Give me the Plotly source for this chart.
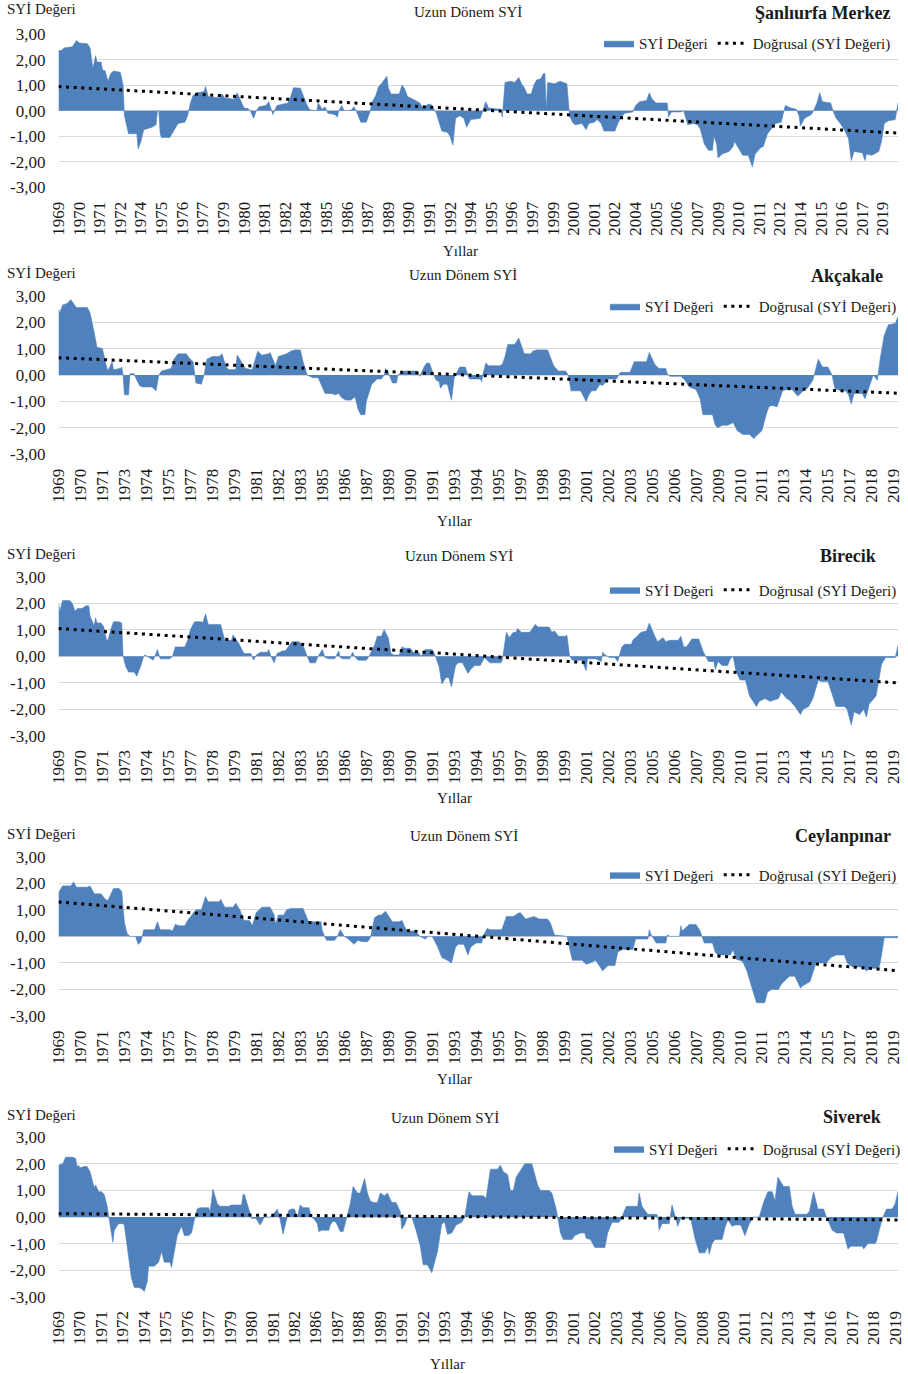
import numpy as np
import plotly.graph_objects as go

W, H = 908, 1374
FONT = "Liberation Serif"
TEXT = "#1a1a1a"
AREA = "#4F81BD"
GRID = "#d9d9d9"

# ---------------- Şanlıurfa Merkez ----------------
merkez_dates = """
1969-01 1969-03 1969-05 1969-11 1970-01 1970-02 1970-04 1970-10 1970-12
1971-02 1971-04 1971-05 1971-08 1971-09 1971-11 1972-01 1972-03 1972-05 1972-10 1972-12
1973-01 1973-03 1973-04 1973-10 1973-11 1974-01 1974-03 1974-09 1974-12
1975-01 1975-02 1975-03 1975-04 1975-10 1976-01 1976-04 1976-09 1976-11
1977-01 1977-03 1977-06 1977-11 1977-12 1978-02 1978-10 1978-12
1979-02 1979-09 1979-11 1980-01 1980-04 1980-07 1980-09 1980-11
1981-01 1981-03 1981-08 1981-10 1982-01 1982-04 1982-09 1982-12
1983-02 1983-04 1983-09 1983-12 1984-02 1984-04 1984-09 1984-10
1985-01 1985-03 1985-05 1985-10 1985-12 1986-01 1986-03 1986-05 1986-10 1986-12
1987-02 1987-05 1987-09 1987-12 1988-01 1988-04 1988-06 1988-08 1988-11 1988-12
1989-01 1989-03 1989-09 1989-11 1990-01 1990-03 1990-07 1990-12
1991-02 1991-06 1991-08 1991-10 1991-12 1992-02 1992-04 1992-08 1992-10 1992-12
1993-02 1993-05 1993-08 1993-10 1994-01 1994-08 1994-10 1994-12
1995-02 1995-11 1995-12 1996-02 1996-06 1996-09 1996-12
1997-02 1997-04 1997-06 1997-09 1997-11 1998-01 1998-04 1998-06 1998-07 1998-08 1998-09
1999-02 1999-06 1999-11 1999-12 2000-01 2000-03 2000-05 2000-10
2001-01 2001-03 2001-07 2001-09 2001-12 2002-02 2002-10 2002-12
2003-02 2003-05 2003-11 2004-01 2004-04 2004-09 2004-11
2005-01 2005-04 2005-12 2006-01 2006-03 2006-10 2006-12
2007-01 2007-03 2007-07 2007-10 2007-12 2008-03 2008-06 2008-09 2008-10 2008-12
2009-01 2009-04 2009-09 2009-12 2010-01 2010-04 2010-07 2010-11
2011-02 2011-04 2011-08 2011-10 2012-01 2012-07 2012-11
2013-01 2013-02 2013-06 2013-10 2013-12 2014-01 2014-04 2014-09 2014-11
2015-01 2015-03 2015-05 2015-11 2016-01 2016-03 2016-06 2016-09 2016-12
2017-02 2017-04 2017-10 2017-12 2018-01 2018-05 2018-10 2018-12
2019-02 2019-05 2019-10 2019-12
""".split()
merkez_spi = [
    2.35, 2.35, 2.45, 2.5, 2.65, 2.75, 2.65, 2.62, 2.45,
    1.65, 2.15, 1.9, 1.9, 1.6, 1.55, 1.15, 1.45, 1.55, 1.5, 1.0,
    -0.2, -0.6, -0.9, -0.9, -1.5, -1.2, -0.75, -0.65, -0.55,
    0.0, 0.0, -0.9, -1.05, -1.05, -0.8, -0.5, -0.45, -0.2,
    0.3, 0.6, 0.7, 0.75, 0.95, 0.55, 0.5, 0.65,
    0.5, 0.45, 0.7, 0.45, 0.1, 0.08, -0.05, -0.3,
    0.0, 0.15, 0.2, 0.35, -0.15, 0.2, 0.25, 0.3,
    0.55, 0.9, 0.88, 0.45, 0.2, 0.03, 0.0, 0.3,
    0.05, 0.15, -0.1, -0.15, -0.25, 0.0, 0.2, 0.0, 0.02, 0.15,
    -0.05, -0.45, -0.45, 0.0, 0.3, 0.6, 0.95, 1.05, 1.3, 1.35,
    0.9, 0.65, 0.65, 1.0, 0.85, 0.55, 0.45, 0.3,
    0.1, 0.25, 0.25, 0.05, -0.1, -0.45, -0.8, -0.85, -1.0, -1.35,
    -0.3, -0.2, -0.3, -0.65, -0.35, -0.3, 0.0, 0.35,
    0.1, 0.05, -0.25, 1.1, 1.15, 1.1, 1.3,
    1.05, 0.9, 0.65, 0.65, 1.0, 1.2, 1.25, 1.45, 1.45, 0.0, 1.1,
    1.05, 1.15, 1.05, 0.5, -0.2, -0.45, -0.55, -0.5,
    -0.75, -0.5, -0.45, -0.35, -0.5, -0.8, -0.8, -0.5,
    -0.3, -0.1, -0.05, 0.2, 0.35, 0.4, 0.7,
    0.45, 0.3, 0.3, -0.25, -0.05, -0.05, 0.0,
    -0.2, -0.55, -0.5, -0.55, -0.7, -1.3, -1.55, -1.55, -1.0, -1.3,
    -1.85, -1.7, -1.6, -1.4, -1.2, -1.45, -1.75, -1.75,
    -2.2, -1.7, -1.45, -1.4, -0.9, -0.5, -0.45,
    0.0, 0.2, 0.1, 0.05, -0.2, -0.6, -0.3, -0.15, 0.05,
    0.3, 0.7, 0.35, 0.3, -0.05, -0.3, -0.5, -0.75, -1.1,
    -1.95, -1.6, -1.65, -1.95, -1.7, -1.75, -1.6, -1.2,
    -0.5, -0.4, -0.35, 0.3,
]

# ---------------- Akçakale ----------------
akcakale_dates = """
1969-01 1969-02 1969-04 1969-07 1969-10 1970-02 1970-10 1970-12
1971-03 1971-05 1971-09 1971-11 1972-01 1972-04 1972-05 1972-10 1972-11 1972-12
1973-01 1973-04 1973-05 1973-08 1973-10 1973-12 1974-02 1974-09 1974-12
1975-02 1975-04 1975-07 1975-11 1976-01 1976-04 1976-10 1976-12
1977-03 1977-05 1977-09 1977-11 1978-01 1978-05 1978-10 1978-12
1979-03 1979-05 1979-10 1979-11 1980-01 1980-05 1980-10
1981-02 1981-05 1981-10 1981-11 1982-02 1982-03 1982-05 1982-11
1983-02 1983-05 1983-09 1983-11 1984-02 1984-04 1984-06 1984-10
1985-01 1985-03 1985-08 1985-10 1986-01 1986-03 1986-06 1986-10 1986-12
1987-01 1987-03 1987-05 1987-08 1987-09 1987-12 1988-01 1988-05 1988-08 1988-10 1988-11
1989-01 1989-04 1989-07 1989-08 1989-11 1990-01 1990-10 1990-12
1991-03 1991-05 1991-07 1991-10 1991-12 1992-02 1992-03 1992-05 1992-08 1992-11
1993-01 1993-05 1993-09 1993-12 1994-02 1994-08 1994-09 1994-10 1994-12
1995-02 1995-10 1995-12 1996-02 1996-04 1996-09 1996-12
1997-02 1997-04 1997-09 1997-10 1998-01 1998-09 1999-01 1999-02 1999-05 1999-10 1999-12
2000-02 2000-09 2001-01 2001-03 2001-05 2001-08 2001-11
2002-01 2002-05 2002-11 2002-12 2003-02 2003-09 2003-12
2004-02 2004-09 2004-11 2005-03 2005-06 2005-11 2005-12 2006-02 2006-10
2007-01 2007-04 2007-09 2007-12 2008-02 2008-09 2008-11
2009-01 2009-04 2009-08 2009-12 2010-03 2010-07 2010-12
2011-03 2011-05 2011-09 2011-12 2012-02 2012-04 2012-08 2012-12
2013-03 2013-07 2013-11 2014-03 2014-06 2014-10 2014-12
2015-02 2015-05 2015-09 2015-12 2016-02 2016-06 2016-10 2016-12
2017-02 2017-04 2017-10 2017-12 2018-02 2018-04 2018-06 2018-09 2018-11
2019-02 2019-05 2019-10 2019-12
""".split()
akcakale_spi = [
    2.5, 2.35, 2.65, 2.7, 2.85, 2.55, 2.55, 2.35,
    1.6, 1.05, 1.0, 0.5, 0.15, 0.5, 0.2, 0.25, 0.3, 0.0,
    -0.75, -0.75, 0.05, 0.05, -0.2, -0.4, -0.45, -0.45, -0.6,
    0.0, 0.15, 0.2, 0.25, 0.6, 0.8, 0.8, 0.65,
    0.5, -0.3, -0.35, 0.0, 0.6, 0.7, 0.7, 0.8,
    0.3, 0.2, 0.2, 0.75, 0.6, 0.25, 0.2,
    0.9, 0.75, 0.8, 0.85, 0.5, 0.35, 0.7, 0.8,
    0.9, 0.95, 0.95, 0.5, 0.0, -0.05, -0.1, -0.1,
    -0.5, -0.7, -0.7, -0.75, -0.7, -0.85, -0.95, -0.95, -0.85,
    -0.85, -1.3, -1.5, -1.5, -1.0, -0.5, -0.35, -0.15, -0.15, 0.0, 0.25,
    0.1, -0.3, -0.3, 0.0, 0.1, 0.15, 0.15, -0.05,
    0.3, 0.45, 0.45, 0.0, -0.2, -0.25, -0.5, -0.35, -0.35, -0.95,
    -0.1, 0.3, 0.3, -0.15, -0.15, -0.15, -0.25, 0.05, 0.45,
    0.35, 0.35, 0.4, 0.7, 1.15, 1.15, 1.4,
    1.1, 0.8, 0.8, 0.9, 0.95, 0.95, 0.4, 0.3, 0.15, 0.15, 0.0,
    -0.6, -0.6, -1.0, -0.75, -0.6, -0.6, -0.35,
    -0.4, -0.15, -0.15, -0.05, 0.1, 0.1, 0.5,
    0.5, 0.5, 0.85, 0.4, 0.25, 0.25, 0.05, -0.05, -0.05,
    -0.2, -0.45, -0.55, -0.9, -1.5, -1.5, -1.9,
    -2.0, -1.9, -1.9, -1.8, -2.1, -2.25, -2.25,
    -2.4, -2.3, -2.1, -1.5, -1.2, -1.15, -1.2, -0.6,
    -0.55, -0.55, -0.8, -0.6, -0.5, -0.2, 0.2,
    0.6, 0.3, 0.3, 0.0, -0.5, -0.6, -0.6, -0.75,
    -1.1, -0.7, -0.7, -0.9, -0.6, -0.3, 0.0, -0.2, 0.6,
    1.5, 1.9, 1.95, 2.2,
]

# ---------------- Birecik ----------------
birecik_dates = """
1969-01 1969-02 1969-04 1969-09 1969-11 1970-01 1970-03 1970-06 1970-09 1970-11 1970-12
1971-03 1971-04 1971-05 1971-08 1971-10 1971-12 1972-01 1972-03 1972-05 1972-09 1972-11 1972-12
1973-02 1973-04 1973-08 1973-10 1974-01 1974-03 1974-04 1974-10 1974-11
1975-01 1975-03 1975-10 1975-12 1976-02 1976-09 1976-11
1977-01 1977-04 1977-09 1977-10 1977-12 1978-02 1978-11
1979-02 1979-07 1979-08 1979-12 1980-01 1980-04 1980-09 1980-11
1981-01 1981-04 1981-09 1981-10 1981-12 1982-02 1982-04 1982-08 1982-10 1982-12
1983-03 1983-08 1983-11 1984-02 1984-04 1984-08 1984-10
1985-01 1985-03 1985-06 1985-10 1986-01 1986-02 1986-04 1986-09 1986-11
1987-01 1987-03 1987-09 1987-11 1988-03 1988-05 1988-08 1988-10
1989-01 1989-03 1989-05 1989-09 1989-11 1990-01 1990-05 1990-07 1990-11
1991-01 1991-04 1991-09 1991-11 1992-02 1992-04 1992-07 1992-09 1992-11
1993-02 1993-04 1993-07 1993-11 1994-01 1994-04 1994-08 1994-11
1995-03 1995-11 1995-12 1996-03 1996-05 1996-08 1996-10 1996-11
1997-02 1997-08 1997-12 1998-02 1998-10 1998-12 1999-02 1999-05 1999-10 1999-11
2000-01 2000-03 2000-10 2001-01 2001-02 2001-08 2001-12
2002-01 2002-03 2002-06 2002-10 2002-12 2003-03 2003-05 2003-10 2003-11
2004-01 2004-05 2004-09 2004-11 2005-03 2005-05 2005-09 2005-11
2006-02 2006-08 2006-10 2006-12 2007-02 2007-06 2007-11
2008-02 2008-04 2008-06 2008-10 2008-11 2009-01 2009-04 2009-08 2009-10 2009-12
2010-02 2010-05 2010-09 2010-12 2011-05 2011-07 2011-11
2012-03 2012-09 2012-11 2013-03 2013-05 2013-09
2014-01 2014-03 2014-07 2014-10 2015-02 2015-04 2015-09 2015-12
2016-03 2016-09 2016-11 2017-02 2017-04 2017-08 2017-11
2018-01 2018-03 2018-08 2018-12 2019-03 2019-10 2019-12
""".split()
birecik_spi = [
    2.0, 1.7, 2.1, 2.1, 2.0, 1.7, 1.8, 1.8, 1.9, 1.9, 1.5,
    1.15, 1.45, 1.25, 1.25, 1.1, 0.6, 0.6, 1.0, 1.3, 1.3, 1.25, 0.0,
    -0.4, -0.6, -0.6, -0.75, -0.35, 0.0, 0.05, -0.15, 0.0,
    0.25, -0.1, -0.1, 0.0, 0.35, 0.35, 0.6,
    1.0, 1.3, 1.3, 1.25, 1.6, 1.2, 1.2,
    0.6, 0.6, 0.8, 0.5, 0.4, 0.1, 0.1, -0.15,
    0.05, 0.15, 0.15, 0.25, -0.05, -0.25, 0.1, 0.2, 0.2, 0.35,
    0.55, 0.55, 0.4, 0.0, -0.25, -0.25, 0.0,
    0.25, -0.05, -0.1, -0.1, 0.2, -0.05, -0.1, -0.1, 0.15,
    -0.05, -0.15, -0.15, 0.0, 0.4, 0.75, 0.75, 1.0,
    0.7, 0.1, 0.05, 0.05, 0.35, 0.3, 0.3, 0.15, 0.15,
    0.0, 0.25, 0.25, 0.05, -0.4, -1.05, -0.8, -0.8, -1.15,
    -0.35, -0.25, -0.25, -0.65, -0.5, -0.35, -0.35, -0.05,
    -0.25, -0.25, -0.15, 0.9, 0.7, 0.9, 0.9, 1.05,
    0.9, 0.9, 1.2, 1.1, 1.1, 0.9, 0.95, 0.75, 0.75, 0.8,
    0.0, -0.15, -0.15, -0.55, -0.1, -0.1, -0.2,
    0.15, 0.05, -0.05, -0.05, -0.2, 0.35, 0.45, 0.45, 0.6,
    0.7, 0.9, 0.95, 1.25, 0.75, 0.55, 0.7, 0.55,
    0.6, 0.6, 0.75, 0.35, 0.35, 0.65, 0.65,
    0.2, 0.0, -0.2, -0.2, -0.5, -0.2, -0.35, -0.35, -0.1, 0.0,
    -0.55, -0.9, -0.9, -1.5, -1.9, -1.7, -1.6,
    -1.7, -1.6, -1.35, -1.6, -1.65, -1.9,
    -2.2, -2.0, -1.9, -1.6, -0.9, -0.95, -0.95, -1.4,
    -1.9, -1.9, -2.0, -2.6, -2.1, -2.2, -2.0,
    -2.3, -1.8, -1.5, -0.3, -0.05, -0.05, 0.4,
]

# ---------------- Ceylanpınar ----------------
ceylanpinar_dates = """
1969-01 1969-04 1969-10 1969-12 1970-02 1970-10 1970-12
1971-03 1971-08 1971-11 1972-01 1972-03 1972-05 1972-09 1972-11
1973-01 1973-03 1973-05 1973-09 1973-11 1974-01 1974-03 1974-11
1975-01 1975-03 1975-10 1975-12 1976-02 1976-05 1976-09 1976-11
1977-02 1977-05 1977-09 1977-12 1978-02 1978-10 1978-11
1979-02 1979-08 1979-10 1980-01 1980-04 1980-08 1980-10
1981-01 1981-05 1981-11 1982-02 1982-03 1982-05 1982-09 1982-11
1983-02 1983-11 1984-03 1984-12 1985-01 1985-04 1985-10 1985-12
1986-02 1986-05 1986-08 1986-12 1987-03 1987-06 1987-10 1987-12
1988-03 1988-06 1988-08 1988-11 1989-04 1989-09 1989-11
1990-01 1990-03 1990-09 1990-12 1991-04 1991-06 1991-09
1992-01 1992-04 1992-08 1992-11 1993-02 1993-04 1993-08 1993-11
1994-01 1994-05 1994-09 1994-10 1995-01 1995-03 1995-11 1995-12
1996-03 1996-08 1996-11 1997-01 1997-05 1997-08 1997-11
1998-03 1998-09 1998-11 1999-02 1999-11
2000-03 2000-10 2001-01 2001-04 2001-08 2002-01 2002-05 2002-10 2002-12
2003-03 2003-11 2004-01 2004-04 2004-10 2004-11 2004-12
2005-04 2005-11 2005-12 2006-02 2006-09 2006-10 2006-11
2007-04 2007-09 2007-12 2008-03 2008-09 2008-11
2009-01 2009-10 2009-12 2010-02 2010-07 2010-10
2011-03 2011-05 2011-11 2012-01 2012-04 2012-09 2012-11
2013-05 2013-09 2014-01 2014-03 2014-08 2014-12
2015-03 2015-08 2015-11 2016-03 2016-09 2016-11
2017-03 2017-10 2018-01 2018-04 2018-10 2018-11 2019-02 2019-12
""".split()
ceylanpinar_spi = [
    1.65, 1.9, 1.9, 2.05, 1.85, 1.85, 1.9,
    1.6, 1.6, 1.4, 1.35, 1.6, 1.8, 1.8, 1.7,
    0.5, 0.1, 0.0, 0.0, -0.3, -0.2, 0.25, 0.25,
    0.55, 0.25, 0.25, 0.2, 0.45, 0.4, 0.4, 0.6,
    0.8, 1.0, 1.0, 1.5, 1.3, 1.3, 1.4,
    1.1, 1.1, 1.25, 1.0, 0.6, 0.6, 0.4,
    0.9, 1.1, 1.1, 0.8, 0.45, 0.8, 0.8, 1.0,
    1.05, 1.05, 0.55, 0.55, 0.2, -0.15, -0.15, 0.0,
    0.25, 0.0, -0.1, -0.3, -0.15, -0.2, -0.2, -0.05,
    0.7, 0.8, 0.8, 0.95, 0.55, 0.55, 0.6,
    0.35, 0.2, 0.2, 0.0, -0.1, 0.0, 0.0,
    -0.4, -0.8, -0.9, -1.0, -0.4, -0.3, -0.3, -0.7,
    -0.4, -0.25, -0.25, 0.0, 0.3, 0.25, 0.25, 0.3,
    0.75, 0.75, 0.85, 0.9, 0.65, 0.7, 0.75,
    0.65, 0.65, 0.5, 0.05, 0.0,
    -0.9, -0.9, -1.05, -1.0, -0.9, -1.3, -1.1, -1.1, -0.6,
    -0.5, -0.5, -0.1, -0.1, -0.1, 0.25, 0.1,
    -0.25, -0.25, 0.05, 0.0, 0.0, 0.4, 0.2,
    0.45, 0.45, 0.2, -0.25, -0.25, -0.6,
    -0.7, -0.7, -0.5, -0.85, -0.95, -1.3,
    -2.1, -2.5, -2.5, -2.1, -2.0, -2.0, -1.8,
    -1.5, -1.5, -1.95, -1.85, -1.7, -1.05,
    -1.0, -1.0, -0.8, -0.7, -0.7, -1.0,
    -1.15, -1.15, -1.3, -1.2, -1.2, -1.0, -0.05, -0.05,
]

# ---------------- Siverek (1984-1985 not recorded) ----------------
siverek_dates = """
1969-01 1969-04 1969-06 1969-11 1970-01 1970-02 1970-03 1970-04 1970-07 1970-09 1970-11
1971-01 1971-02 1971-03 1971-05 1971-07 1971-09 1971-11
1972-01 1972-03 1972-04 1972-07 1972-10 1972-11
1973-02 1973-04 1973-06 1973-09 1973-11 1974-01 1974-03 1974-04 1974-08 1974-11
1975-01 1975-03 1975-07 1975-08 1975-10 1975-12
1976-03 1976-05 1976-08 1976-10 1976-12
1977-02 1977-04 1977-10 1977-11 1978-01 1978-04 1978-06 1978-12
1979-02 1979-09 1979-10 1979-11 1980-01 1980-03 1980-04 1980-07 1980-10 1980-12
1981-01 1981-05 1981-08 1981-10 1981-12 1982-02 1982-04 1982-06 1982-08 1982-10 1982-12
1983-02 1983-04 1983-08 1983-10 1983-12
1986-02 1986-03 1986-05 1986-10 1986-11 1987-01 1987-03 1987-06 1987-08 1987-10
1988-01 1988-03 1988-06 1988-08 1988-11 1989-01 1989-03 1989-05 1989-08 1989-10
1990-01 1990-03 1990-06 1990-09 1990-12 1991-01 1991-03 1991-05 1991-08 1991-11
1992-02 1992-04 1992-07 1992-10 1993-01 1993-02 1993-05 1993-07 1993-09 1993-12
1994-03 1994-07 1994-09 1994-12 1995-02 1995-10 1995-12
1996-03 1996-08 1996-10 1996-12 1997-03 1997-05 1997-07 1997-09 1997-12
1998-03 1998-08 1998-12 1999-02 1999-08 1999-10
2000-01 2000-04 2000-06 2000-12 2001-02 2001-06 2001-09 2001-10
2002-01 2002-04 2002-11 2003-01 2003-04 2003-09 2003-11
2004-02 2004-10 2004-11 2005-01 2005-05 2005-11 2005-12
2006-01 2006-03 2006-08 2006-10 2006-12 2007-02 2007-04 2007-11 2007-12
2008-02 2008-05 2008-09 2008-11 2008-12 2009-02 2009-04 2009-09 2009-11
2010-01 2010-04 2010-06 2010-10 2011-01 2011-04 2011-07 2011-11
2012-02 2012-05 2012-08 2012-10 2012-12 2013-04 2013-08 2013-10 2013-12
2014-02 2014-08 2014-10 2015-01 2015-04 2015-08 2015-10
2016-02 2016-05 2016-10 2017-01 2017-03 2017-11 2017-12
2018-03 2018-08 2018-09 2019-01 2019-04 2019-08 2019-10 2019-12
""".split()
siverek_spi = [
    1.95, 2.0, 2.25, 2.25, 2.2, 1.9, 1.95, 1.85, 1.9, 1.9, 1.7,
    1.3, 1.1, 1.2, 0.95, 0.95, 0.85, 0.4,
    -0.3, -0.95, -0.5, -0.25, -0.25, -0.3,
    -1.5, -2.3, -2.65, -2.65, -2.7, -2.8, -2.45, -1.85, -1.85, -1.7,
    -1.3, -1.7, -1.7, -1.9, -1.3, -0.7,
    -0.35, -0.7, -0.7, -0.6, -0.1,
    0.3, 0.35, 0.35, 0.2, 1.05, 0.5, 0.4, 0.4,
    0.45, 0.45, 0.85, 0.85, 0.5, 0.2, -0.05, -0.05, -0.3, -0.1,
    0.0, 0.0, 0.15, 0.3, -0.1, -0.65, -0.2, 0.25, 0.3, 0.3, 0.0,
    0.45, 0.35, 0.35, 0.0, -0.1,
    -0.25, -0.55, -0.5, -0.5, -0.3, -0.15, -0.2, -0.55, -0.55, -0.1,
    0.5, 1.15, 0.9, 0.9, 1.45, 0.9, 0.6, 0.55, 0.55, 0.9,
    0.8, 0.9, 0.55, 0.55, 0.2, -0.45, -0.3, 0.0, 0.0, -0.5,
    -1.1, -1.8, -1.8, -2.1, -1.5, -1.3, -0.25, -0.2, -0.65, -0.6,
    -0.3, -0.2, 0.0, 0.95, 0.8, 0.8, 0.7,
    1.8, 1.8, 1.95, 1.7, 1.6, 1.0, 1.0, 1.5, 1.75,
    2.0, 2.0, 1.2, 1.0, 1.0, 0.9,
    0.3, -0.6, -0.85, -0.85, -0.7, -0.6, -0.6, -0.8,
    -0.85, -1.15, -1.15, -0.6, -0.2, -0.2, 0.0,
    0.4, 0.4, 0.9, 0.4, 0.1, 0.1, 0.05,
    -0.5, -0.25, -0.25, 0.45, 0.0, -0.35, -0.05, -0.05, -0.3,
    -0.8, -1.35, -1.35, -1.1, -1.4, -1.0, -0.85, -0.85, -0.4,
    -0.1, -0.35, -0.3, -0.3, -0.7, -0.25, 0.0, 0.0,
    0.55, 0.95, 0.95, 0.6, 1.5, 1.15, 1.15, 0.4, 0.1,
    0.1, 0.1, 0.2, 0.95, 0.3, 0.3, 0.0,
    -0.5, -0.6, -0.6, -1.2, -1.1, -1.1, -1.2,
    -1.0, -1.0, -0.9, -0.05, 0.3, 0.3, 0.5, 0.95,
]

Y_TICKS = [3, 2, 1, 0, -1, -2, -3]
Y_TICK_TEXT = ["3,00", "2,00", "1,00", "0,00", "-1,00", "-2,00", "-3,00"]

# Panel layout, in page pixels
stations = [
    dict(name="Şanlıurfa Merkez", dates=merkez_dates, spi=merkez_spi, step=15, skipped=(),
         top=34.0, bottom=187.3, ylab_y=9, title_x=468, title_y=12, name_x=892, name_y=13,
         leg_x=896, leg_y=43.5, xt=(460, 251)),
    dict(name="Akçakale", dates=akcakale_dates, spi=akcakale_spi, step=16, skipped=(),
         top=295.7, bottom=454.3, ylab_y=273, title_x=463, title_y=275, name_x=885, name_y=276,
         leg_x=902, leg_y=306.5, xt=(455, 521)),
    dict(name="Birecik", dates=birecik_dates, spi=birecik_spi, step=16, skipped=(),
         top=576.7, bottom=735.7, ylab_y=554, title_x=459, title_y=556, name_x=878, name_y=556,
         leg_x=902, leg_y=590, xt=(455, 798)),
    dict(name="Ceylanpınar", dates=ceylanpinar_dates, spi=ceylanpinar_spi, step=16, skipped=(),
         top=856.7, bottom=1016.0, ylab_y=834, title_x=464, title_y=836, name_x=893, name_y=836,
         leg_x=902, leg_y=875, xt=(455, 1079)),
    dict(name="Siverek", dates=siverek_dates, spi=siverek_spi, step=15, skipped=(1984, 1985),
         top=1137.3, bottom=1296.7, ylab_y=1115, title_x=445, title_y=1118, name_x=883, name_y=1117,
         leg_x=906, leg_y=1149, xt=(447, 1364)),
]

PLOT_LEFT, PLOT_RIGHT = 58.5, 898.0


def px_x(v):
    return v / W


def px_y(v):
    return 1 - v / H


def month_index(date, skipped):
    y, m = (int(p) for p in date.split("-"))
    idx = (y - 1969) * 12 + (m - 1)
    return idx - 12 * sum(1 for s in skipped if s < y)


def month_years(skipped):
    return [y for y in range(1969, 2020) if y not in skipped for _ in range(12)]


fig = go.Figure()
annotations = []
layout_axes = {}

for k, st in enumerate(stations, start=1):
    assert len(st["dates"]) == len(st["spi"]), st["name"]
    sfx = "" if k == 1 else str(k)
    xa, ya, lg = "x" + sfx, "y" + sfx, "legend" + sfx

    years = month_years(st["skipped"])
    n = len(years)
    idx = np.array([month_index(d, st["skipped"]) for d in st["dates"]], dtype=float)
    vals = np.array(st["spi"], dtype=float)

    fig.add_trace(go.Scatter(
        x=idx, y=vals, mode="lines", fill="tozeroy", fillcolor=AREA,
        line=dict(color=AREA, width=0.6), name="SYİ Değeri",
        xaxis=xa, yaxis=ya, legend=lg, hoverinfo="skip"))

    slope, intercept = np.polyfit(idx, vals, 1)
    tx = np.array([0, n - 1], dtype=float)
    fig.add_trace(go.Scatter(
        x=tx, y=intercept + slope * tx, mode="lines",
        line=dict(color="black", width=3, dash="3px,4.6px"),
        name="Doğrusal (SYİ Değeri)", xaxis=xa, yaxis=ya, legend=lg, hoverinfo="skip"))

    tickvals = list(range(0, n, st["step"]))
    ticktext = [str(years[i]) for i in tickvals]

    layout_axes["xaxis" + sfx] = dict(
        domain=[px_x(PLOT_LEFT), px_x(PLOT_RIGHT)], anchor=ya, range=[0, n - 1],
        showgrid=False, zeroline=False, showline=False, ticks="",
        tickmode="array", tickvals=tickvals, ticktext=ticktext, tickangle=-90,
        tickfont=dict(family=FONT, size=17, color=TEXT), ticklabelstandoff=10)
    layout_axes["yaxis" + sfx] = dict(
        domain=[px_y(st["bottom"]), px_y(st["top"])], anchor=xa, range=[-3, 3],
        showgrid=True, gridcolor=GRID, gridwidth=1, zeroline=False, showline=False, ticks="",
        tickmode="array", tickvals=Y_TICKS, ticktext=Y_TICK_TEXT,
        tickfont=dict(family=FONT, size=17, color=TEXT), ticklabelstandoff=12)
    layout_axes[lg] = dict(
        orientation="h", x=px_x(st["leg_x"]), xanchor="right", y=px_y(st["leg_y"]),
        yanchor="middle", bgcolor="rgba(0,0,0,0)", itemwidth=30,
        font=dict(family=FONT, size=15, color=TEXT), traceorder="normal")

    annotations += [
        dict(text="SYİ Değeri", x=px_x(5), y=px_y(st["ylab_y"]), xanchor="left", yanchor="middle",
             font=dict(family=FONT, size=15, color=TEXT)),
        dict(text="Uzun Dönem SYİ", x=px_x(st["title_x"]), y=px_y(st["title_y"]),
             xanchor="center", yanchor="middle", font=dict(family=FONT, size=15, color=TEXT)),
        dict(text="<b>%s</b>" % st["name"], x=px_x(st["name_x"]), y=px_y(st["name_y"]),
             xanchor="right", yanchor="middle", font=dict(family=FONT, size=18, color=TEXT)),
        dict(text="Yıllar", x=px_x(st["xt"][0]), y=px_y(st["xt"][1]), xanchor="center",
             yanchor="middle", font=dict(family=FONT, size=15, color=TEXT)),
    ]

for a in annotations:
    a.update(xref="paper", yref="paper", showarrow=False)

fig.update_layout(
    width=W, height=H, margin=dict(l=0, r=0, t=0, b=0, autoexpand=False),
    paper_bgcolor="white", plot_bgcolor="white",
    font=dict(family=FONT, color=TEXT), showlegend=True,
    annotations=annotations, **layout_axes)

fig.write_html("out.html")
